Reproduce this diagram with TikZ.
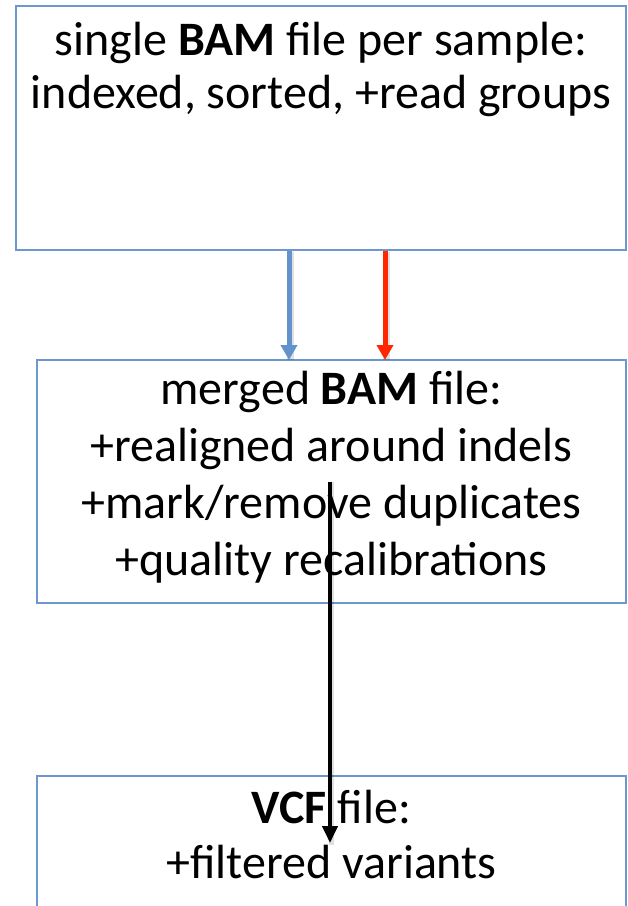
\documentclass[tikz,border=0pt]{standalone}
\usepackage{fontspec}
\setmainfont{Carlito}
\usetikzlibrary{arrows.meta}

\definecolor{boxedge}{RGB}{108,151,207}
\definecolor{flowblue}{RGB}{98,147,204}
\definecolor{flowred}{RGB}{255,38,0}

\tikzset{
  filebox/.style={draw=boxedge, line width=1.8bp, fill=white, rectangle,
    inner sep=0pt, outer sep=0pt},
  % multi-line text: the base anchor sits on the last line's baseline
  boxtext/.style={align=center, anchor=base, inner sep=0pt, text=black},
  flowarrow/.style={line width=5bp, -{Triangle[length=15bp,width=16bp]}},
  blackflow/.style={line width=4bp, draw=black,
    -{Triangle[length=17bp,width=15bp]}},
  arrowshade/.style={draw=black, draw opacity=0.12, line width=6.5bp},
}

\begin{document}
\begin{tikzpicture}[x=1bp, y=-1bp]
  \clip (0,0) rectangle (628,906);
  \fill[white] (0,0) rectangle (628,906);

  % the three file boxes
  \node[filebox, minimum width=610bp, minimum height=244bp] (box1) at (321,128) {};
  \node[filebox, minimum width=589bp, minimum height=243bp] (box2) at (331.5,481.5) {};
  \node[filebox, minimum width=589bp, minimum height=240bp] (box3) at (331.5,896) {};

  % box contents
  \node[boxtext, font={\fontsize{48bp}{53bp}\selectfont}] (t1) at (321,108)
    {single \textbf{BAM} file per sample:\\indexed, sorted, +read groups};
  \node[boxtext, font={\fontsize{48bp}{57bp}\selectfont}] (t2) at (331.5,575)
    {merged \textbf{BAM} file:\\+realigned around indels\\+mark/remove duplicates\\+quality recalibrations};
  \node[boxtext, font={\fontsize{48bp}{55bp}\selectfont}] (t3) at (331.5,878)
    {\textbf{VCF} file:\\+filtered variants};

  % connector positions
  \coordinate (blueX) at (289,0);
  \coordinate (redX) at (385,0);
  \coordinate (blackStart) at (330,482);
  \coordinate (blackEnd) at (330,843);

  % soft shadows under the connectors
  \draw[arrowshade] ([xshift=1.5bp,yshift=-1.5bp]box1.south -| blueX) -- ([xshift=1.5bp]box2.north -| blueX);
  \draw[arrowshade] ([xshift=1.5bp,yshift=-1.5bp]box1.south -| redX) -- ([xshift=1.5bp]box2.north -| redX);
  \draw[arrowshade, line width=5bp] ([xshift=1.5bp]blackStart) -- ([xshift=1.5bp,yshift=-2bp]blackEnd);

  % connectors
  \draw[flowarrow, draw=flowblue, fill=flowblue]
    ([yshift=-1bp]box1.south -| blueX) -- (box2.north -| blueX);
  \draw[flowarrow, draw=flowred, fill=flowred]
    ([yshift=-1bp]box1.south -| redX) -- (box2.north -| redX);
  \draw[blackflow] (blackStart) -- (blackEnd);
\end{tikzpicture}
\end{document}
